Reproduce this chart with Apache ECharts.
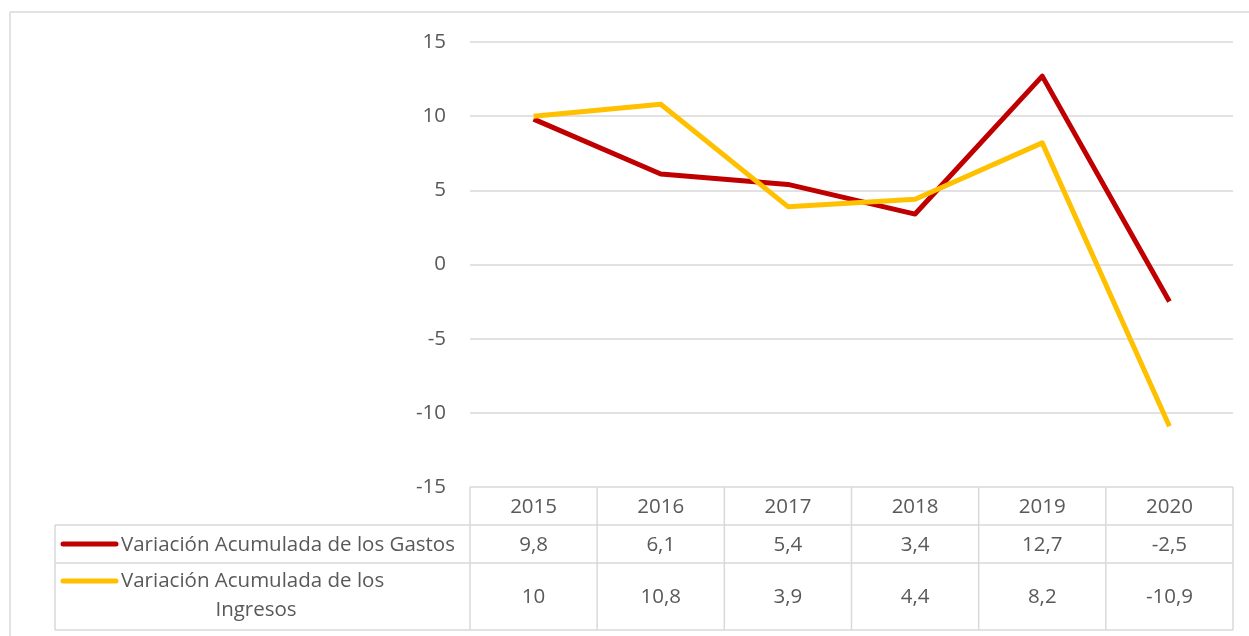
<!DOCTYPE html>
<html>
<head>
<meta charset="utf-8">
<script src="https://cdn.jsdelivr.net/npm/echarts@6/dist/echarts.min.js"></script>
<style>
  html, body { margin: 0; padding: 0; background: #fff; }
  #main { width: 1249px; height: 636px; }
</style>
</head>
<body>
<div id="main"></div>
<script>
// datos
var years = ['2015', '2016', '2017', '2018', '2019', '2020'];
var gastos = [9.8, 6.1, 5.4, 3.4, 12.7, -2.5];
var ingresos = [10, 10.8, 3.9, 4.4, 8.2, -10.9];
var names = ['Variación Acumulada de los Gastos', 'Variación Acumulada de los Ingresos'];
var colors = ['#C00000', '#FFC000'];

var FONT = '"Open Sans", "Noto Sans", sans-serif';
var FS = 20.5;
var txt = '#595959';
var border = '#D9D9D9';

var chart = echarts.init(document.getElementById('main'), null, { renderer: 'canvas' });

chart.setOption({
  animation: false,
  backgroundColor: '#fff',
  grid: { left: 470, right: 16, top: 42, bottom: 149, containLabel: false },
  xAxis: {
    type: 'category',
    data: years,
    boundaryGap: true,
    axisLine: { show: false },
    axisTick: { show: false },
    axisLabel: { show: false },
    splitLine: { show: false }
  },
  yAxis: {
    type: 'value',
    min: -15, max: 15, interval: 5,
    axisLine: { show: false },
    axisTick: { show: false },
    axisLabel: { color: txt, fontSize: FS, fontFamily: FONT, margin: 24 },
    splitLine: { lineStyle: { color: border, width: 1.5 } }
  },
  series: [
    { name: names[0], type: 'line', data: gastos, showSymbol: false,
      lineStyle: { color: colors[0], width: 5, join: 'round' }, itemStyle: { color: colors[0] } },
    { name: names[1], type: 'line', data: ingresos, showSymbol: false,
      lineStyle: { color: colors[1], width: 5, join: 'round' }, itemStyle: { color: colors[1] } }
  ]
});

// tabla de datos debajo del grafico, con la escala del eje x
function fmt(v) { return String(v).replace('.', ','); }

var c0 = chart.convertToPixel({ xAxisIndex: 0 }, 0);
var c1 = chart.convertToPixel({ xAxisIndex: 0 }, 1);
var band = c1 - c0;
var gridLeft = c0 - band / 2;
var gridRight = gridLeft + band * years.length;
var yTop = chart.convertToPixel({ yAxisIndex: 0 }, -15);
var r1 = yTop + 38, r2 = r1 + 38, r3 = r2 + 67;
var tableLeft = 55;

var g = [];
var ls = { stroke: border, lineWidth: 1.5 };
function hline(x1, x2, y) { g.push({ type: 'line', shape: { x1: x1, y1: y, x2: x2, y2: y }, style: ls, silent: true }); }
function vline(x, y1, y2) { g.push({ type: 'line', shape: { x1: x, y1: y1, x2: x, y2: y2 }, style: ls, silent: true }); }
function label(x, y, s, align) {
  g.push({ type: 'text', x: x, y: y, silent: true,
    style: { text: s, fill: txt, font: FS + 'px ' + FONT, align: align || 'center', verticalAlign: 'middle' } });
}

// marco exterior
hline(10, 1249, 12);
vline(10, 12, 636);

hline(tableLeft, gridRight, r1);
hline(tableLeft, gridRight, r2);
hline(tableLeft, gridRight, r3);
vline(tableLeft, r1, r3);
for (var i = 0; i <= years.length; i++) {
  vline(gridLeft + band * i, yTop, r3);
}
years.forEach(function (yr, i) {
  var cx = chart.convertToPixel({ xAxisIndex: 0 }, i);
  label(cx, (yTop + r1) / 2 + 1, yr);
  label(cx, (r1 + r2) / 2 + 1, fmt(gastos[i]));
  label(cx, (r2 + r3) / 2 + 1, fmt(ingresos[i]));
});

// claves de la leyenda en la tabla
g.push({ type: 'line', shape: { x1: 63, y1: r1 + 19, x2: 116, y2: r1 + 19 },
  style: { stroke: colors[0], lineWidth: 5, lineCap: 'round' }, silent: true });
g.push({ type: 'line', shape: { x1: 63, y1: r2 + 18, x2: 116, y2: r2 + 18 },
  style: { stroke: colors[1], lineWidth: 5, lineCap: 'round' }, silent: true });
label(121, (r1 + r2) / 2 + 1, names[0], 'left');
label(121, r2 + 18, 'Variación Acumulada de los', 'left');
label(256, r2 + 47, 'Ingresos');

chart.setOption({ graphic: g });
</script>
</body>
</html>
